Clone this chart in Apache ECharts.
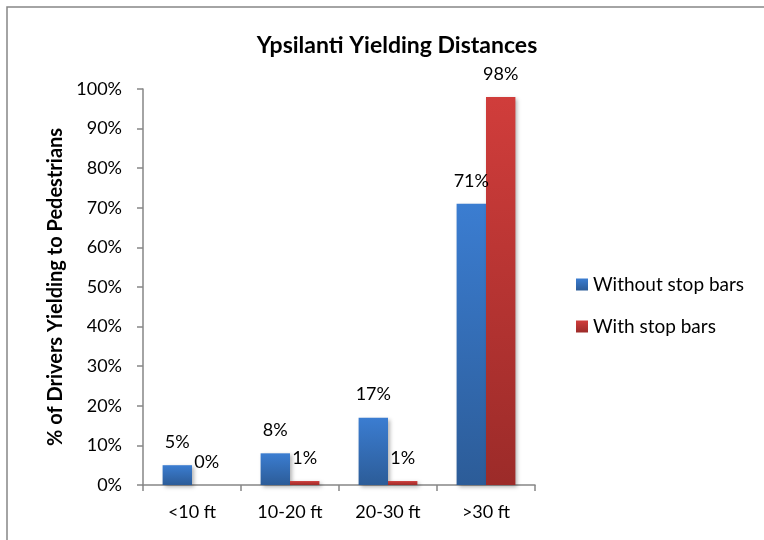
<!DOCTYPE html>
<html>
<head>
<meta charset="utf-8">
<script src="https://cdn.jsdelivr.net/npm/echarts@6/dist/echarts.min.js"></script>
<style>
  html, body { margin: 0; padding: 0; background: #fff; }
  #chart { width: 764px; height: 540px; }
</style>
</head>
<body>
<div id="chart"></div>
<script>
// categories and values (percent)
const categories = ['<10 ft', '10-20 ft', '20-30 ft', '>30 ft']
const withoutStopBars = [5, 8, 17, 71]
const withStopBars = [0, 1, 1, 98]
const yTicks = [0, 10, 20, 30, 40, 50, 60, 70, 80, 90, 100]

const font = 'Lato'

let grad = (top, bottom) => new echarts.graphic.LinearGradient(0, 0, 0, 1, [
  { offset: 0, color: top },
  { offset: 1, color: bottom }
])

let barLabel = {
  show: true,
  position: 'top',
  distance: 14,
  formatter: '{c}%',
  color: '#000',
  fontFamily: font,
  fontSize: 18
}

let myChart = echarts.init(document.getElementById('chart'))
let options = {
  animation: false,
  // chart border
  graphic: [{
    type: 'rect',
    shape: { x: 7, y: 7, width: 800, height: 600 },
    style: { fill: 'none', stroke: '#868686', lineWidth: 1.5 }
  }],
  title: {
    text: 'Ypsilanti Yielding Distances',
    left: 392,
    top: 29,
    textAlign: 'center',
    textStyle: { fontFamily: font, fontWeight: 'bold', fontSize: 23, color: '#000' }
  },
  legend: {
    orient: 'vertical',
    left: 571,
    top: 270,
    itemWidth: 12,
    itemHeight: 12,
    itemGap: 23,
    icon: 'rect',
    textStyle: { fontFamily: font, fontSize: 19, color: '#000' },
    data: ['Without stop bars', 'With stop bars']
  },
  grid: { left: 143, right: 229, top: 89, bottom: 55 },
  xAxis: {
    type: 'category',
    data: categories,
    axisLine: { lineStyle: { color: '#868686', width: 1.5 } },
    axisTick: { show: true, length: 6, lineStyle: { color: '#868686', width: 1.5 } },
    axisLabel: { margin: 18, color: '#000', fontFamily: font, fontSize: 18 }
  },
  yAxis: {
    type: 'value',
    min: 0,
    max: 100,
    interval: 10,
    name: '% of Drivers Yielding to Pedestrians',
    nameLocation: 'middle',
    nameGap: 66,
    nameTextStyle: { fontFamily: font, fontWeight: 'bold', fontSize: 20, color: '#000' },
    splitLine: { show: false },
    axisLine: { show: true, lineStyle: { color: '#868686', width: 1.5 } },
    axisTick: { show: true, length: 6, lineStyle: { color: '#868686', width: 1.5 } },
    axisLabel: {
      margin: 21,
      color: '#000',
      fontFamily: font,
      fontSize: 18,
      formatter: v => yTicks.includes(v) ? v + '%' : ''
    }
  },
  series: [
    {
      name: 'Without stop bars',
      type: 'bar',
      data: withoutStopBars,
      barWidth: '30%',
      barGap: '0%',
      itemStyle: {
        color: grad('#3b7dd1', '#2c5c98'),
        shadowBlur: 4,
        shadowOffsetX: 2,
        shadowOffsetY: 2,
        shadowColor: 'rgba(0,0,0,0.3)'
      },
      label: barLabel
    },
    {
      name: 'With stop bars',
      type: 'bar',
      data: withStopBars,
      barWidth: '30%',
      barGap: '0%',
      itemStyle: {
        color: grad('#d03d3b', '#9c2b29'),
        shadowBlur: 4,
        shadowOffsetX: 2,
        shadowOffsetY: 2,
        shadowColor: 'rgba(0,0,0,0.3)'
      },
      label: barLabel
    }
  ]
}
myChart.setOption(options)
</script>
</body>
</html>
